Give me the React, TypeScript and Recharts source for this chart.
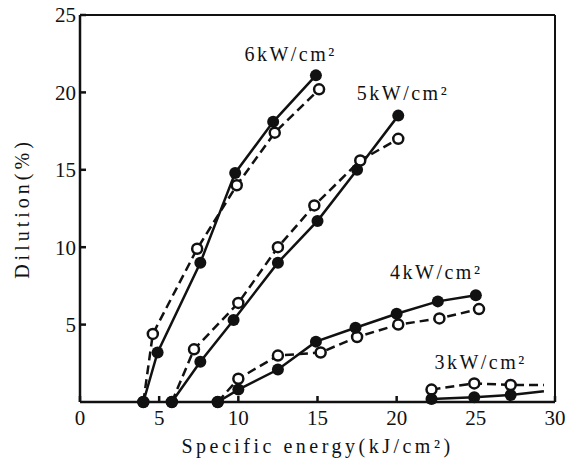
import React from 'react';
import {
  ComposedChart, Line, XAxis, YAxis, ReferenceLine, ReferenceDot,
} from 'recharts';

type Pt = { x: number; y: number };

// values (solid = filled markers, dashed = open markers)
const p6Solid: Pt[] = [
  { x: 4.0, y: 0 }, { x: 4.9, y: 3.2 }, { x: 7.6, y: 9.0 }, { x: 9.8, y: 14.8 },
  { x: 12.2, y: 18.1 }, { x: 14.9, y: 21.1 },
];
const p6Dashed: Pt[] = [
  { x: 4.0, y: 0 }, { x: 4.6, y: 4.4 }, { x: 7.4, y: 9.9 }, { x: 9.9, y: 14.0 },
  { x: 12.3, y: 17.4 }, { x: 15.1, y: 20.2 },
];
const p5Solid: Pt[] = [
  { x: 5.8, y: 0 }, { x: 7.6, y: 2.6 }, { x: 9.7, y: 5.3 }, { x: 12.5, y: 9.0 },
  { x: 15.0, y: 11.7 }, { x: 17.5, y: 15.0 }, { x: 20.1, y: 18.5 },
];
const p5Dashed: Pt[] = [
  { x: 5.8, y: 0 }, { x: 7.2, y: 3.4 }, { x: 10.0, y: 6.4 }, { x: 12.5, y: 10.0 },
  { x: 14.8, y: 12.7 }, { x: 17.7, y: 15.6 }, { x: 20.1, y: 17.0 },
];
const p4Solid: Pt[] = [
  { x: 8.7, y: 0 }, { x: 10.0, y: 0.8 }, { x: 12.5, y: 2.1 }, { x: 14.9, y: 3.9 },
  { x: 17.4, y: 4.8 }, { x: 20.0, y: 5.7 }, { x: 22.6, y: 6.5 }, { x: 25.0, y: 6.9 },
];
const p4Dashed: Pt[] = [
  { x: 8.7, y: 0 }, { x: 10.0, y: 1.5 }, { x: 12.5, y: 3.0 }, { x: 15.2, y: 3.2 },
  { x: 17.5, y: 4.2 }, { x: 20.1, y: 5.0 }, { x: 22.7, y: 5.4 }, { x: 25.2, y: 6.0 },
];
const p3Solid: Pt[] = [
  { x: 22.2, y: 0.2 }, { x: 24.9, y: 0.3 }, { x: 27.2, y: 0.45 }, { x: 29.3, y: 0.7 },
];
const p3Dashed: Pt[] = [
  { x: 22.2, y: 0.8 }, { x: 24.9, y: 1.2 }, { x: 27.2, y: 1.1 }, { x: 29.3, y: 1.1 },
];

const xTicks = [0, 5, 10, 15, 20, 25, 30];
const yTicks = [5, 10, 15, 20, 25];

const curveLabels = [
  { text: '6kW/cm²', x: 13.3, y: 22.5 },
  { text: '5kW/cm²', x: 20.4, y: 20.0 },
  { text: '4kW/cm²', x: 22.5, y: 8.4 },
  { text: '3kW/cm²', x: 25.3, y: 2.6 },
];

const INK = '#111';
const FONT = '"Liberation Serif", "DejaVu Serif", serif';

// last point of the 3kW curves has no marker
const filledDot = (len: number) => (props: any) => {
  const { cx, cy, index } = props;
  if (len && index === len - 1) return <g key={index} />;
  return <circle key={index} cx={cx} cy={cy} r={6} fill={INK} />;
};
const openDot = (len: number) => (props: any) => {
  const { cx, cy, index } = props;
  if (len && index === len - 1) return <g key={index} />;
  return <circle key={index} cx={cx} cy={cy} r={5} fill="#fff" stroke={INK} strokeWidth={2.5} />;
};

export default function App() {
  const tickStyle = { fontFamily: FONT, fontSize: 21, fill: INK };
  return (
    <div style={{ position: 'absolute', left: 0, top: 0, background: '#fff' }}>
      <ComposedChart width={575} height={463} margin={{ top: 15, right: 20, bottom: 0, left: 0 }}>
        <XAxis
          dataKey="x" type="number" domain={[0, 30]} ticks={xTicks}
          height={61} stroke={INK} strokeWidth={2.5} tickSize={-6} tickMargin={14}
          tick={tickStyle} allowDuplicatedCategory={false}
          label={{
            value: 'Specific energy(kJ/cm²)', position: 'insideBottom', offset: 10,
            style: { fontFamily: FONT, fontSize: 20, fill: INK, letterSpacing: 3.5 },
          }}
        />
        <YAxis
          type="number" domain={[0, 25]} ticks={yTicks} width={80}
          stroke={INK} strokeWidth={2.5} tickSize={-6} tickMargin={10} tick={tickStyle}
          label={{
            value: 'Dilution(%)', angle: -90, position: 'insideLeft', offset: 22,
            style: { fontFamily: FONT, fontSize: 20, fill: INK, letterSpacing: 4, textAnchor: 'middle' },
          }}
        />
        <ReferenceLine y={25} stroke={INK} strokeWidth={2} />
        <ReferenceLine x={30} stroke={INK} strokeWidth={2} />

        <Line data={p6Dashed} dataKey="y" type="linear" stroke={INK} strokeWidth={2.5} strokeDasharray="9 5" dot={openDot(0)} isAnimationActive={false} />
        <Line data={p6Solid} dataKey="y" type="linear" stroke={INK} strokeWidth={2.5} dot={filledDot(0)} isAnimationActive={false} />
        <Line data={p5Dashed} dataKey="y" type="linear" stroke={INK} strokeWidth={2.5} strokeDasharray="9 5" dot={openDot(0)} isAnimationActive={false} />
        <Line data={p5Solid} dataKey="y" type="linear" stroke={INK} strokeWidth={2.5} dot={filledDot(0)} isAnimationActive={false} />
        <Line data={p4Dashed} dataKey="y" type="linear" stroke={INK} strokeWidth={2.5} strokeDasharray="9 5" dot={openDot(0)} isAnimationActive={false} />
        <Line data={p4Solid} dataKey="y" type="linear" stroke={INK} strokeWidth={2.5} dot={filledDot(0)} isAnimationActive={false} />
        <Line data={p3Dashed} dataKey="y" type="linear" stroke={INK} strokeWidth={2.5} strokeDasharray="9 5" dot={openDot(p3Dashed.length)} isAnimationActive={false} />
        <Line data={p3Solid} dataKey="y" type="linear" stroke={INK} strokeWidth={2.5} dot={filledDot(p3Solid.length)} isAnimationActive={false} />

        {curveLabels.map((l) => (
          <ReferenceDot
            key={l.text} x={l.x} y={l.y} r={0} fill="none" stroke="none"
            label={{
              value: l.text, position: 'center',
              style: { fontFamily: FONT, fontSize: 20, fill: INK, letterSpacing: 2.5 },
            }}
          />
        ))}
      </ComposedChart>
    </div>
  );
}
